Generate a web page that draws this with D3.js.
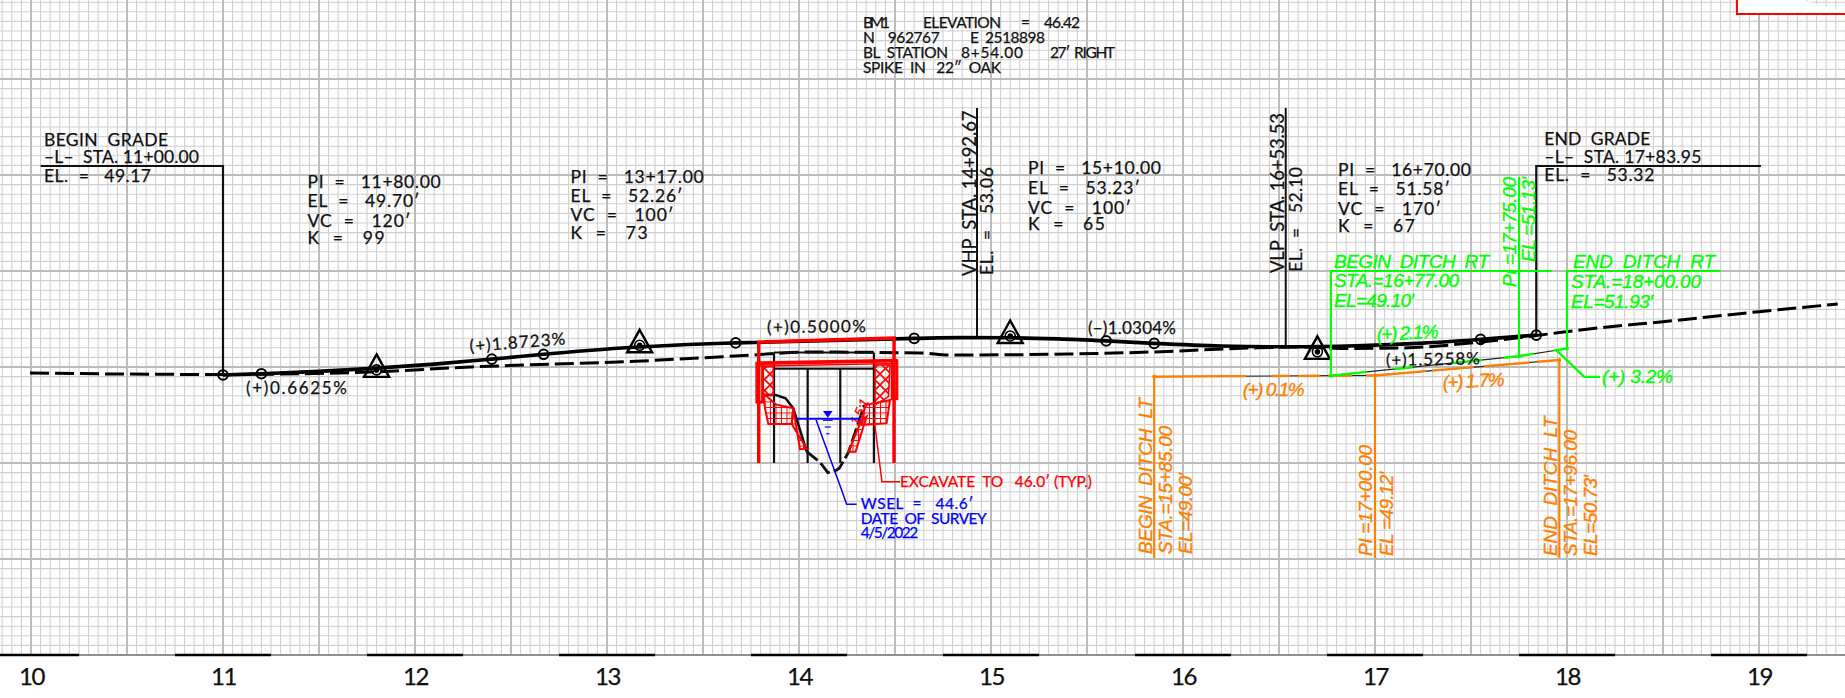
<!DOCTYPE html>
<html>
  <head>
  <meta charset="utf-8">
  <style>
    body { margin: 0; background: #fff; }
    svg { display: block; }
    text { font-family: Lato, sans-serif; fill: #111; white-space: pre; stroke: currentColor; stroke-width: 0.25px; }
    text.cad { font-family: "Liberation Sans", sans-serif; font-style: italic; stroke-width: 0.35px; }
  </style>
  </head>
  <body>
    <div id="chart"></div>
    <script src="https://d3js.org/d3.v7.min.js"></script>
    <script>
    'use strict';

    // station ticks along the bottom
    var stationTicks = [10, 11, 12, 13, 14, 15, 16, 17, 18, 19];

    // proposed grade
    var gradeSta = [11.00, 11.20, 11.50, 11.80, 12.10, 12.40, 12.67, 12.92, 13.17, 13.42, 13.67, 14.60, 14.85, 15.10, 15.35, 15.60, 15.85, 16.20, 16.55, 16.90, 17.25, 17.55, 17.84];
    var gradeEl = [49.17, 49.30, 49.54, 49.88, 50.30, 50.82, 51.32, 51.75, 52.08, 52.34, 52.51, 52.98, 53.06, 53.04, 52.93, 52.72, 52.46, 52.19, 52.11, 52.21, 52.49, 52.88, 53.32];

    // curve ends (open circles)
    var curveSta = [11.00, 11.20, 12.40, 12.67, 13.67, 14.60, 15.60, 15.85, 17.55, 17.84];
    var curveEl = [49.17, 49.30, 50.82, 51.32, 52.51, 52.98, 52.72, 52.46, 52.88, 53.32];

    // PI triangles
    var piSta = [11.80, 13.17, 15.10, 16.70];
    var piEl = [49.70, 52.26, 53.23, 51.58];

    // existing ground, dashed
    var groundSta = [9.995, 10.46, 11.00, 11.77, 12.29, 13.15, 13.76, 14.04, 14.63, 14.79, 15.40, 15.83, 16.35, 16.61, 16.87, 17.13, 17.55, 17.84, 18.16, 18.50, 19.00, 19.41];
    var groundEl = [49.38, 49.27, 49.22, 49.48, 50.00, 50.60, 51.25, 51.56, 51.46, 51.25, 51.35, 51.56, 51.98, 52.08, 51.93, 51.98, 52.60, 53.28, 54.06, 54.72, 55.76, 56.56];

    // ditches
    var ditchRtSta = [16.77, 17.75, 18.00];
    var ditchRtEl = [49.10, 51.13, 51.93];
    var ditchLtSta = [15.85, 17.00, 17.96];
    var ditchLtEl = [49.00, 49.12, 50.73];

    // bridge section, [station, elevation]
    var channelBank = [[13.82, 47.08], [13.88, 47.08], [13.93, 46.74], [13.97, 45.70], [14.005, 43.44], [14.04, 41.18]];
    var channelBed = [[14.04, 41.18], [14.10, 40.24], [14.12, 39.80], [14.15, 39.00], [14.19, 39.20], [14.21, 39.45], [14.257, 41.10], [14.34, 46.04]];
    var pileSta = [13.87, 14.045, 14.215, 14.39];
    var pileTopEl = [51.50, 49.82, 49.82, 51.50];
    var padLeft = [[13.814, 47.26], [13.823, 45.70], [13.84, 44.06], [13.962, 44.06], [13.97, 45.70], [13.88, 46.10]];
    var padRight = [[14.344, 46.04], [14.474, 46.56], [14.456, 44.14], [14.326, 43.96]];
    var slopeLeft = [[13.97, 45.70], [14.005, 41.43], [14.04, 41.49], [13.962, 44.06]];
    var slopeRight = [[14.326, 44.48], [14.257, 41.18], [14.295, 41.18], [14.352, 44.82]];
    var wallLeft = [[13.814, 50.03], [13.866, 50.03], [13.866, 47.08], [13.814, 47.08]];
    var wallRight = [[14.396, 50.21], [14.474, 50.21], [14.466, 46.91], [14.396, 46.04]];
    var excavation = [[13.79, 40], [13.79, 52.60], [14.495, 53.02], [14.495, 40]];
    var capLeft = [[13.78, 50.39], [13.78, 46.35], [13.81, 46.35], [13.81, 50.39]];
    var capRight = [[14.485, 50.66], [14.485, 46.67], [14.51, 46.67], [14.51, 50.66]];
    var wsel = [[13.988, 44.6], [14.318, 44.6]];
    var wselLeader = [[14.089, 44.48], [14.222, 37.19], [14.248, 35.70], [14.30, 35.70]];
    var excavateLeader = [[14.39, 44.79], [14.432, 38.05], [14.526, 38.05]];
    var sheetCorner = [[18.885, 90], [18.885, 86.77], [19.5, 86.77]];

    // text
    var beginGrade = ['BEGIN  GRADE', '–L–  STA. 11+00.00', 'EL.  =   49.17'];
    var endGrade = ['END  GRADE', '–L–  STA. 17+83.95', 'EL.  =   53.32'];
    var piRows = [
      ['PI  =   11+80.00', 'EL  =   49.70′', 'VC  =   120′', 'K  =   99'],
      ['PI  =   13+17.00', 'EL  =   52.26′', 'VC  =   100′', 'K  =   73'],
      ['PI  =   15+10.00', 'EL  =   53.23′', 'VC  =   100′', 'K  =   65'],
      ['PI  =   16+70.00', 'EL  =   51.58′', 'VC  =   170′', 'K  =   67']
    ];
    var wselNote = ['WSEL  =   44.6′', 'DATE  OF  SURVEY', '4/5/2022'];

    var width = 1845, height = 698, axisY = 655;

    var x = d3.scaleLinear().domain([10, 19]).range([31, 1759]);
    var y = d3.scaleLinear().domain([50, 60]).range([367, 271]);

    var svg = d3.select('#chart').append('svg')
      .attr('width', width)
      .attr('height', height)
      .style('background', '#fff');

    var defs = svg.append('defs');
    var hatch = defs.append('pattern').attr('id', 'hatch')
      .attr('width', 5.5).attr('height', 5.5).attr('patternUnits', 'userSpaceOnUse');
    hatch.append('path').attr('d', 'M0 0H5.5M0 0V5.5').attr('stroke', '#f00').attr('stroke-width', 2);
    var lattice = defs.append('pattern').attr('id', 'lattice')
      .attr('width', 11).attr('height', 11).attr('patternUnits', 'userSpaceOnUse');
    lattice.append('path').attr('d', 'M0 0L11 11M11 0L0 11').attr('stroke', '#f00').attr('stroke-width', 1.6);

    // grid
    var grid = svg.append('g');
    var minorK = d3.range(-4, 195);
    var minorY = d3.range(20, 90);
    function drawGrid(ks, ys, color, w) {
      grid.selectAll(null).data(ks).enter().append('line')
        .attr('x1', function(d) { return x(10 + d * 0.05); }).attr('x2', function(d) { return x(10 + d * 0.05); })
        .attr('y1', 0).attr('y2', axisY)
        .attr('stroke', color).attr('stroke-width', w);
      grid.selectAll(null).data(ys).enter().append('line')
        .attr('y1', function(d) { return y(d); }).attr('y2', function(d) { return y(d); })
        .attr('x1', 0).attr('x2', width)
        .attr('stroke', color).attr('stroke-width', w);
    }
    drawGrid(minorK, minorY, '#d0d0d0', 1.1);
    drawGrid(minorK.filter(function(k) { return k % 10 === 0; }),
             minorY.filter(function(d) { return d % 10 === 0; }), '#bcbcbc', 2);

    // axis
    var axis = svg.append('g').attr('transform', 'translate(0,' + axisY + ')');
    axis.append('line').attr('x1', 0).attr('x2', width)
      .attr('stroke', '#808080').attr('stroke-width', 1.6);
    axis.selectAll(null).data(stationTicks).enter().append('line')
      .attr('x1', function(d) { return x(d - 0.25); })
      .attr('x2', function(d) { return x(d + 0.25); })
      .attr('stroke', '#000').attr('stroke-width', 2.6);
    axis.call(d3.axisBottom(x).tickValues(stationTicks).tickFormat(d3.format('d')).tickSize(0).tickPadding(13))
      .call(function(g) { g.select('.domain').remove(); })
      .selectAll('text')
      .style('font-family', 'Lato, sans-serif')
      .style('font-size', '24px')
      .style('letter-spacing', '-1.5px')
      .style('fill', '#111');

    var toLine = d3.line().x(function(d) { return x(d[0]); }).y(function(d) { return y(d[1]); });
    var smooth = d3.line().x(function(d) { return x(d[0]); }).y(function(d) { return y(d[1]); }).curve(d3.curveMonotoneX);
    function pairs(a, b) { return a.map(function(d, i) { return [d, b[i]]; }); }

    function path(pts, color, w, dash, gen) {
      return svg.append('path').datum(pts)
        .attr('d', gen || toLine)
        .attr('fill', 'none')
        .attr('stroke', color)
        .attr('stroke-width', w)
        .attr('stroke-dasharray', dash || null);
    }
    function area(pts, fill, w) {
      return svg.append('path').datum(pts)
        .attr('d', function(d) { return toLine(d) + 'Z'; })
        .attr('fill', fill)
        .attr('stroke', '#f00')
        .attr('stroke-width', w);
    }
    function txt(str, px, py, len, size, color, cls) {
      return svg.append('text')
        .attr('class', cls || null)
        .attr('x', px).attr('y', py)
        .attr('textLength', len)
        .attr('lengthAdjust', 'spacing')
        .style('font-size', size + 'px')
        .style('fill', color || '#111')
        .style('color', color || '#111')
        .text(str);
    }
    function vtxt(str, px, yStart, yEnd, size, color, cls) {
      return txt(str, px, yStart, yStart - yEnd, size, color, cls)
        .attr('transform', 'rotate(-90 ' + px + ' ' + yStart + ')');
    }
    function tilt(sel, px, py, deg) {
      return sel.attr('x', px).attr('y', py)
        .attr('transform', 'rotate(' + deg + ' ' + px + ' ' + py + ')');
    }

    // sheet corner at top right
    svg.append('path').datum(sheetCorner)
      .attr('d', toLine).attr('fill', '#fff').attr('stroke', '#f00').attr('stroke-width', 2);

    // callout leaders
    path([[10.05, 70.94], [11, 70.94], [11, 49.17]], '#111', 2.2);
    path([[19.01, 70.94], [17.84, 70.94], [17.84, 53.32]], '#111', 2.2);
    path([[14.927, 76.98], [14.927, 53.06]], '#111', 2);
    path([[16.535, 76.98], [16.535, 52.10]], '#111', 2);

    // existing ground and grade
    path(pairs(groundSta, groundEl), '#000', 3, '19 6', smooth);
    path(pairs(gradeSta, gradeEl), '#000', 3.6, null, smooth);

    svg.selectAll(null).data(pairs(curveSta, curveEl)).enter().append('circle')
      .attr('cx', function(d) { return x(d[0]); }).attr('cy', function(d) { return y(d[1]); })
      .attr('r', 4.8).attr('fill', 'none').attr('stroke', '#000').attr('stroke-width', 2);

    // PI markers
    var pi = svg.selectAll(null).data(pairs(piSta, piEl)).enter().append('g')
      .attr('transform', function(d) { return 'translate(' + x(d[0]) + ',' + y(d[1]) + ')'; });
    pi.append('path').attr('d', d3.line()([[0, -15.5], [12.5, 7], [-12.5, 7]]) + 'Z')
      .attr('fill', 'none').attr('stroke', '#000').attr('stroke-width', 2.4);
    pi.append('circle').attr('r', 5).attr('fill', 'none').attr('stroke', '#000').attr('stroke-width', 1.6);
    pi.append('circle').attr('r', 2.8).attr('fill', '#000');

    // bridge section: black
    path(channelBank, '#111', 2.6);
    path(channelBed, '#111', 2.8, '14 4');
    pileSta.forEach(function(s, i) {
      path([[s, 40], [s, pileTopEl[i]]], '#111', 2.2);
    });
    path([[pileSta[0], 51.50], [pileSta[3], 51.50]], '#111', 2);
    path([[pileSta[0], 49.82], [pileSta[3], 49.82]], '#111', 2);

    // bridge section: red
    area(padLeft, 'url(#hatch)', 2);
    area(padRight, 'url(#hatch)', 2);
    area(slopeLeft, 'url(#hatch)', 2);
    area(slopeRight, 'url(#hatch)', 2);
    area(wallLeft, 'url(#lattice)', 1.6);
    area(wallRight, 'url(#lattice)', 1.6);
    path(excavation, '#f00', 3.4);
    path([[13.78, 50.39], [14.51, 50.66]], '#f00', 3.6);
    path([[13.78, 50.10], [14.51, 50.37]], '#f00', 1.6);
    area(capLeft, 'none', 2.8);
    area(capRight, 'none', 2.8);
    path(excavateLeader, '#f00', 1.5);
    tilt(txt('1.5:1', 0, 0, 27, 13, '#f00', 'cad'), 858, 426, -66);
    txt('EXCAVATE  TO   46.0′ (TYP.)', 900, 486.7, 192, 15.5, '#f00');

    // water surface
    path(wsel, '#00f', 2);
    path(wselLeader, '#00f', 1.5);
    svg.append('path').datum([[14.125, 45.42], [14.175, 45.42], [14.15, 44.72]])
      .attr('d', function(d) { return toLine(d) + 'Z'; }).attr('fill', '#00f');
    [[0.025, 44.45], [0.016, 43.75], [0.008, 43.05]].forEach(function(d) {
      path([[14.15 - d[0], d[1]], [14.15 + d[0], d[1]]], '#00f', 1.2);
    });
    wselNote.forEach(function(t, i) {
      txt(t, 860.7, [509, 524, 538][i], [112.7, 126, 57.6][i], 15.5, '#00f');
    });

    // ditch left
    path(pairs(ditchLtSta, ditchLtEl), '#222', 1.2);
    path(pairs(ditchLtSta, ditchLtEl), '#ff8000', 2.4, '92 26 18 8 22 8 24 14 60 6 42 10 46 8');
    ditchLtSta.forEach(function(s, i) {
      path([[s, 30.1], [s, ditchLtEl[i]]], '#ff8000', 2.2);
    });
    svg.selectAll(null).data(pairs(ditchLtSta, ditchLtEl)).enter().append('circle')
      .attr('cx', function(d) { return x(d[0]); }).attr('cy', function(d) { return y(d[1]); })
      .attr('r', 2).attr('fill', '#ff8000');

    vtxt('BEGIN  DITCH  LT', 1151.7, 554, 398, 19, '#ff8000', 'cad');
    vtxt('STA.=15+85.00', 1172, 554, 426, 19, '#ff8000', 'cad');
    vtxt('EL=49.00′', 1191.7, 554, 473, 19, '#ff8000', 'cad');
    vtxt('PI =17+00.00', 1371.7, 556, 445, 19, '#ff8000', 'cad');
    vtxt('EL =49.12′', 1393, 556, 471.7, 19, '#ff8000', 'cad');
    vtxt('END  DITCH  LT', 1556.7, 556, 416.7, 19, '#ff8000', 'cad');
    vtxt('STA.=17+96.00', 1576.7, 556, 430, 19, '#ff8000', 'cad');
    vtxt('EL=50.73′', 1596.7, 556, 475, 19, '#ff8000', 'cad');
    txt('(+) 0.1%', 1242.7, 396, 62, 19, '#ff8000', 'cad');
    tilt(txt('(+) 1.7%', 0, 0, 62, 19, '#ff8000', 'cad'), 1443, 389, -3);

    // ditch right
    path(pairs(ditchRtSta, ditchRtEl), '#222', 1.2);
    path(pairs(ditchRtSta, ditchRtEl), '#00ff00', 2.4, '36 28 18 40 30 22 30 20');
    path([[ditchRtSta[0], ditchRtEl[0]], [ditchRtSta[0], 60], [17.92, 60]], '#00ff00', 2.2);
    path([[ditchRtSta[1], ditchRtEl[1]], [ditchRtSta[1], 69.82]], '#00ff00', 2.2);
    path([[ditchRtSta[2], ditchRtEl[2]], [ditchRtSta[2], 60], [18.80, 60]], '#00ff00', 2.2);
    path([[17.94, 51.84], [18.09, 48.98], [18.172, 48.98]], '#00ff00', 2.2);
    svg.selectAll(null).data(pairs(ditchRtSta, ditchRtEl)).enter().append('circle')
      .attr('cx', function(d) { return x(d[0]); }).attr('cy', function(d) { return y(d[1]); })
      .attr('r', 2).attr('fill', '#00ff00');

    txt('BEGIN  DITCH  RT', 1334, 268, 155, 19, '#00ff00', 'cad');
    txt('STA.=16+77.00', 1334, 286.7, 125, 19, '#00ff00', 'cad');
    txt('EL=49.10′', 1334, 307, 80, 19, '#00ff00', 'cad');
    tilt(txt('(+) 2.1%', 0, 0, 62, 19, '#00ff00', 'cad'), 1377, 341, -3);
    txt('END  DITCH  RT', 1573, 268, 142, 19, '#00ff00', 'cad');
    txt('STA.=18+00.00', 1571, 288, 130, 19, '#00ff00', 'cad');
    txt('EL=51.93′', 1571, 308, 82, 19, '#00ff00', 'cad');
    txt('(+) 3.2%', 1602, 383, 71, 19, '#00ff00', 'cad');
    vtxt('PI =17+75.00', 1515.5, 287, 177, 19, '#00ff00', 'cad');
    vtxt('EL =51.13′', 1535, 262, 177, 19, '#00ff00', 'cad');

    // grade percent labels
    txt('(+)0.6625%', 246, 394, 101, 17);
    tilt(txt('(+)1.8723%', 0, 0, 96, 17), 470, 352, -4.5);
    tilt(txt('(+)0.5000%', 0, 0, 99, 17), 767, 333, -0.5);
    txt('(–)1.0304%', 1088, 334, 88, 17);
    tilt(txt('(+)1.5258%', 0, 0, 94, 17), 1386, 366, -1);

    // begin / end notes
    beginGrade.forEach(function(t, i) {
      txt(t, 44, [146, 163, 181.7][i], [124, 155, 107][i], 17.5);
    });
    endGrade.forEach(function(t, i) {
      txt(t, 1544.3, [145, 163, 180.7][i], [106, 157, 110][i], 17.5);
    });

    // PI notes
    var piX = [307.6, 570.6, 1028, 1338];
    var piY = [[187.7, 206.7, 226.7, 244], [182.7, 201.7, 221, 238.5], [174, 194, 214, 229.5], [176, 195, 215, 231.7]];
    var piLen = [133, 112, 103, 77];
    piRows.forEach(function(rows, b) {
      rows.forEach(function(t, i) {
        txt(t, piX[b], piY[b][i], piLen[i], 17.5);
      });
    });

    // VHP / VLP
    vtxt('VHP  STA. 14+92.67', 975.5, 276, 110.5, 18.5);
    vtxt('EL.  =   53.06', 993, 275, 167, 17.5);
    vtxt('VLP  STA. 16+53.53', 1284, 273, 113, 18.5);
    vtxt('EL.  =   52.10', 1302, 271.7, 167, 17.5);

    // bench mark
    txt('BM1', 863, 28.3, 27, 15.5);
    txt('ELEVATION', 923, 28.3, 78, 15.5);
    txt('=', 1021, 28.3, 11, 15.5);
    txt('46.42', 1044, 28.3, 36, 15.5);
    txt('N', 863, 43.3, 11, 15.5);
    txt('962767', 887.7, 43.3, 52, 15.5);
    txt('E', 970, 43.3, 9, 15.5);
    txt('2518898', 985, 43.3, 60, 15.5);
    txt('BL  STATION', 863, 58.3, 85, 15.5);
    txt('8+54.00', 961, 58.3, 62, 15.5);
    txt('27′  RIGHT', 1050, 58.3, 65, 15.5);
    txt('SPIKE  IN   22″  OAK', 863, 73.3, 138, 15.5);

    </script>
  </body>
</html>
